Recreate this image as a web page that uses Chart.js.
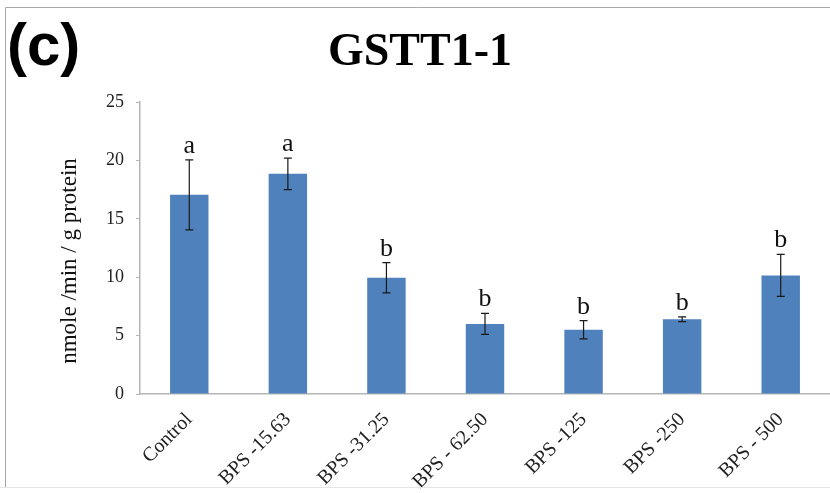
<!DOCTYPE html>
<html>
<head>
<meta charset="utf-8">
<script src="https://cdn.jsdelivr.net/npm/chart.js@4.4.0/dist/chart.umd.min.js"></script>
<style>
  html, body { margin: 0; padding: 0; background: #fff; }
  canvas { display: block; }
</style>
</head>
<body>
<canvas id="gstChart" width="830" height="493"></canvas>
<script>
const categories = ["Control", "BPS -15.63", "BPS -31.25", "BPS - 62.50", "BPS -125", "BPS -250", "BPS - 500"];
const means = [17.05, 18.85, 9.95, 6.0, 5.5, 6.4, 10.15];
const errors = [3.0, 1.35, 1.3, 0.9, 0.78, 0.2, 1.8];
const letters = ["a", "a", "b", "b", "b", "b", "b"];
const yTicks = [0, 5, 10, 15, 20, 25];

const SERIF = "'Liberation Serif', 'Times New Roman', serif";

// error bars and significance letters on top of bars
const errorBarPlugin = {
  id: "errorBars",
  afterDatasetsDraw(chart) {
    const ctx = chart.ctx;
    const y = chart.scales.y;
    const meta = chart.getDatasetMeta(0);
    ctx.save();
    ctx.strokeStyle = "#1a1a1a";
    ctx.lineWidth = 1.2;
    meta.data.forEach((bar, i) => {
      const top = y.getPixelForValue(means[i] + errors[i]);
      const bot = y.getPixelForValue(means[i] - errors[i]);
      ctx.beginPath();
      ctx.moveTo(bar.x, top);
      ctx.lineTo(bar.x, bot);
      ctx.moveTo(bar.x - 4, top);
      ctx.lineTo(bar.x + 4, top);
      ctx.moveTo(bar.x - 4, bot);
      ctx.lineTo(bar.x + 4, bot);
      ctx.stroke();
      ctx.fillStyle = "#111";
      ctx.font = "26px " + SERIF;
      ctx.textAlign = "center";
      ctx.textBaseline = "alphabetic";
      ctx.fillText(letters[i], bar.x, top - 7);
    });
    ctx.restore();
  }
};

// panel label, title, axis title and frame
const decorPlugin = {
  id: "decor",
  afterDraw(chart) {
    const ctx = chart.ctx;
    ctx.save();
    ctx.strokeStyle = "#a8a8a8";
    ctx.lineWidth = 1;
    ctx.beginPath();
    ctx.moveTo(5.5, 488);
    ctx.lineTo(5.5, 7.5);
    ctx.lineTo(830, 7.5);
    ctx.stroke();
    ctx.strokeStyle = "#e6e6e6";
    ctx.beginPath();
    ctx.moveTo(0, 487.5);
    ctx.lineTo(830, 487.5);
    ctx.stroke();

    ctx.fillStyle = "#000";
    ctx.textBaseline = "alphabetic";
    ctx.textAlign = "left";
    ctx.font = "bold 60px 'Liberation Sans', Arial, sans-serif";
    ctx.fillText("(c)", 7, 65);

    ctx.textAlign = "center";
    ctx.font = "bold 46px " + SERIF;
    ctx.fillText("GSTT1-1", 420, 65);

    ctx.translate(76, 261);
    ctx.rotate(-Math.PI / 2);
    ctx.font = "23px " + SERIF;
    ctx.fillStyle = "#111";
    ctx.fillText("nmole /min / g protein", 0, 0);
    ctx.restore();
  }
};

new Chart(document.getElementById("gstChart"), {
  type: "bar",
  data: {
    labels: categories,
    datasets: [{
      data: means,
      backgroundColor: "#4f81bd",
      borderWidth: 0,
      categoryPercentage: 1.0,
      barPercentage: 0.39,
    }],
  },
  options: {
    responsive: false,
    animation: false,
    layout: { padding: { top: 102, left: 0, right: 0, bottom: 0 } },
    plugins: {
      legend: { display: false },
      tooltip: { enabled: false },
    },
    scales: {
      x: {
        grid: { display: false, drawTicks: false },
        border: { display: true, color: "#b5b5b5", width: 1.5 },
        ticks: {
          color: "#222",
          font: { family: SERIF, size: 20 },
          maxRotation: 45,
          minRotation: 45,
          padding: 14,
        },
        afterFit(scale) { scale.height = 99; },
      },
      y: {
        min: 0,
        max: 25,
        afterBuildTicks(scale) { scale.ticks = yTicks.map((v) => ({ value: v })); },
        grid: { drawOnChartArea: false, drawTicks: true, tickLength: 4, color: "#b5b5b5" },
        border: { display: true, color: "#b5b5b5", width: 1.5 },
        ticks: {
          color: "#222",
          font: { family: SERIF, size: 18 },
          padding: 12,
        },
        afterFit(scale) { scale.width = 140; },
      },
    },
  },
  plugins: [errorBarPlugin, decorPlugin],
});
</script>
</body>
</html>
